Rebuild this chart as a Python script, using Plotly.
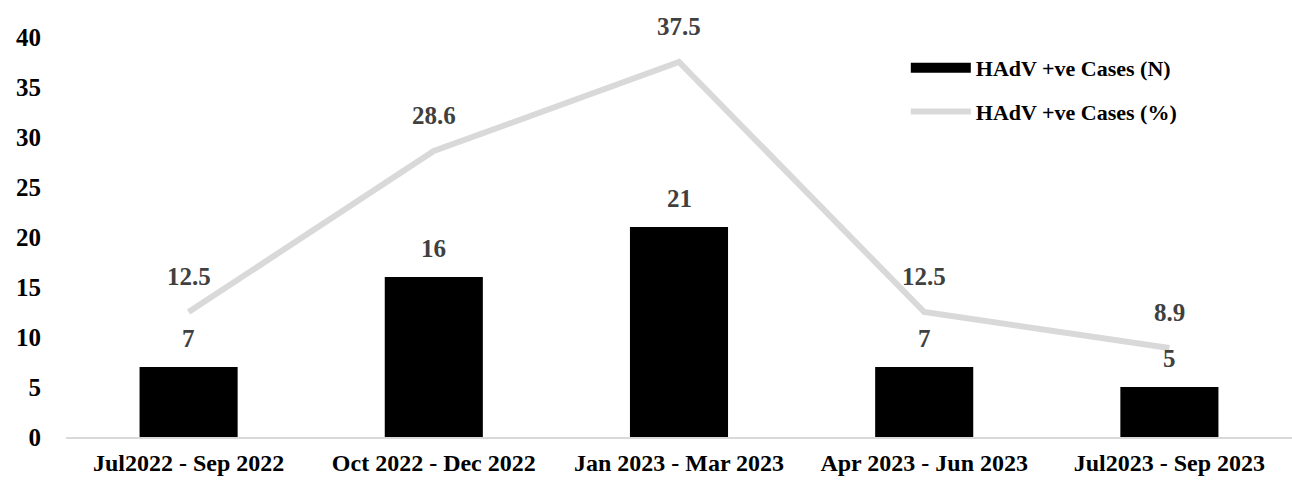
import plotly.graph_objects as go

categories = ["Jul2022 - Sep 2022", "Oct 2022 - Dec 2022", "Jan 2023 - Mar 2023",
              "Apr 2023 - Jun 2023", "Jul2023 - Sep 2023"]
cases_n = [7, 16, 21, 7, 5]
cases_pct = [12.5, 28.6, 37.5, 12.5, 8.9]
y_ticks = [0, 5, 10, 15, 20, 25, 30, 35, 40]

SERIF = "Liberation Serif, Times New Roman, serif"

fig = go.Figure()
fig.add_trace(go.Bar(
    x=categories, y=cases_n, name="HAdV +ve Cases (N)",
    marker=dict(color="#000000", line=dict(width=0)),
    showlegend=False,
))
# legend swatch for the bars (wide black rectangle as in the original)
fig.add_trace(go.Scatter(
    x=[None], y=[None], name="HAdV +ve Cases (N)", mode="lines",
    line=dict(color="#000000", width=12), legendgroup="a",
))
fig.add_trace(go.Scatter(
    x=categories, y=cases_pct, name="HAdV +ve Cases (%)",
    mode="lines", line=dict(color="#d9d9d9", width=6),
    legendgroup="b",
))

annotations = []
for c, v in zip(categories, cases_n):
    annotations.append(dict(x=c, y=v, text=str(v), showarrow=False, yshift=29,
                            font=dict(family=SERIF, size=25, color="#404040", weight="bold")))
for c, v in zip(categories, cases_pct):
    annotations.append(dict(x=c, y=v, text=f"{v:.1f}", showarrow=False, yshift=36,
                            font=dict(family=SERIF, size=25, color="#404040", weight="bold")))

fig.update_layout(
    width=1292, height=481,
    margin=dict(l=66, r=0, t=37, b=44),
    paper_bgcolor="white", plot_bgcolor="white",
    bargap=0.6,
    showlegend=True,
    legend=dict(x=0.685, y=0.975, xanchor="left", yanchor="top",
                font=dict(family=SERIF, size=22, color="#000000", weight="bold"),
                traceorder="grouped", tracegroupgap=12, itemwidth=60,
                bgcolor="rgba(0,0,0,0)"),
    annotations=annotations,
    xaxis=dict(showline=True, linecolor="#d9d9d9", linewidth=2, showgrid=False,
               ticks="", ticklabelstandoff=3,
               tickfont=dict(family=SERIF, size=24, color="#000000", weight="bold")),
    yaxis=dict(range=[0, 40], tickvals=y_ticks, showgrid=False, zeroline=False,
               showline=False, ticks="", ticklabelstandoff=24,
               tickfont=dict(family=SERIF, size=25, color="#000000", weight="bold")),
)

fig.write_html("out.html")
